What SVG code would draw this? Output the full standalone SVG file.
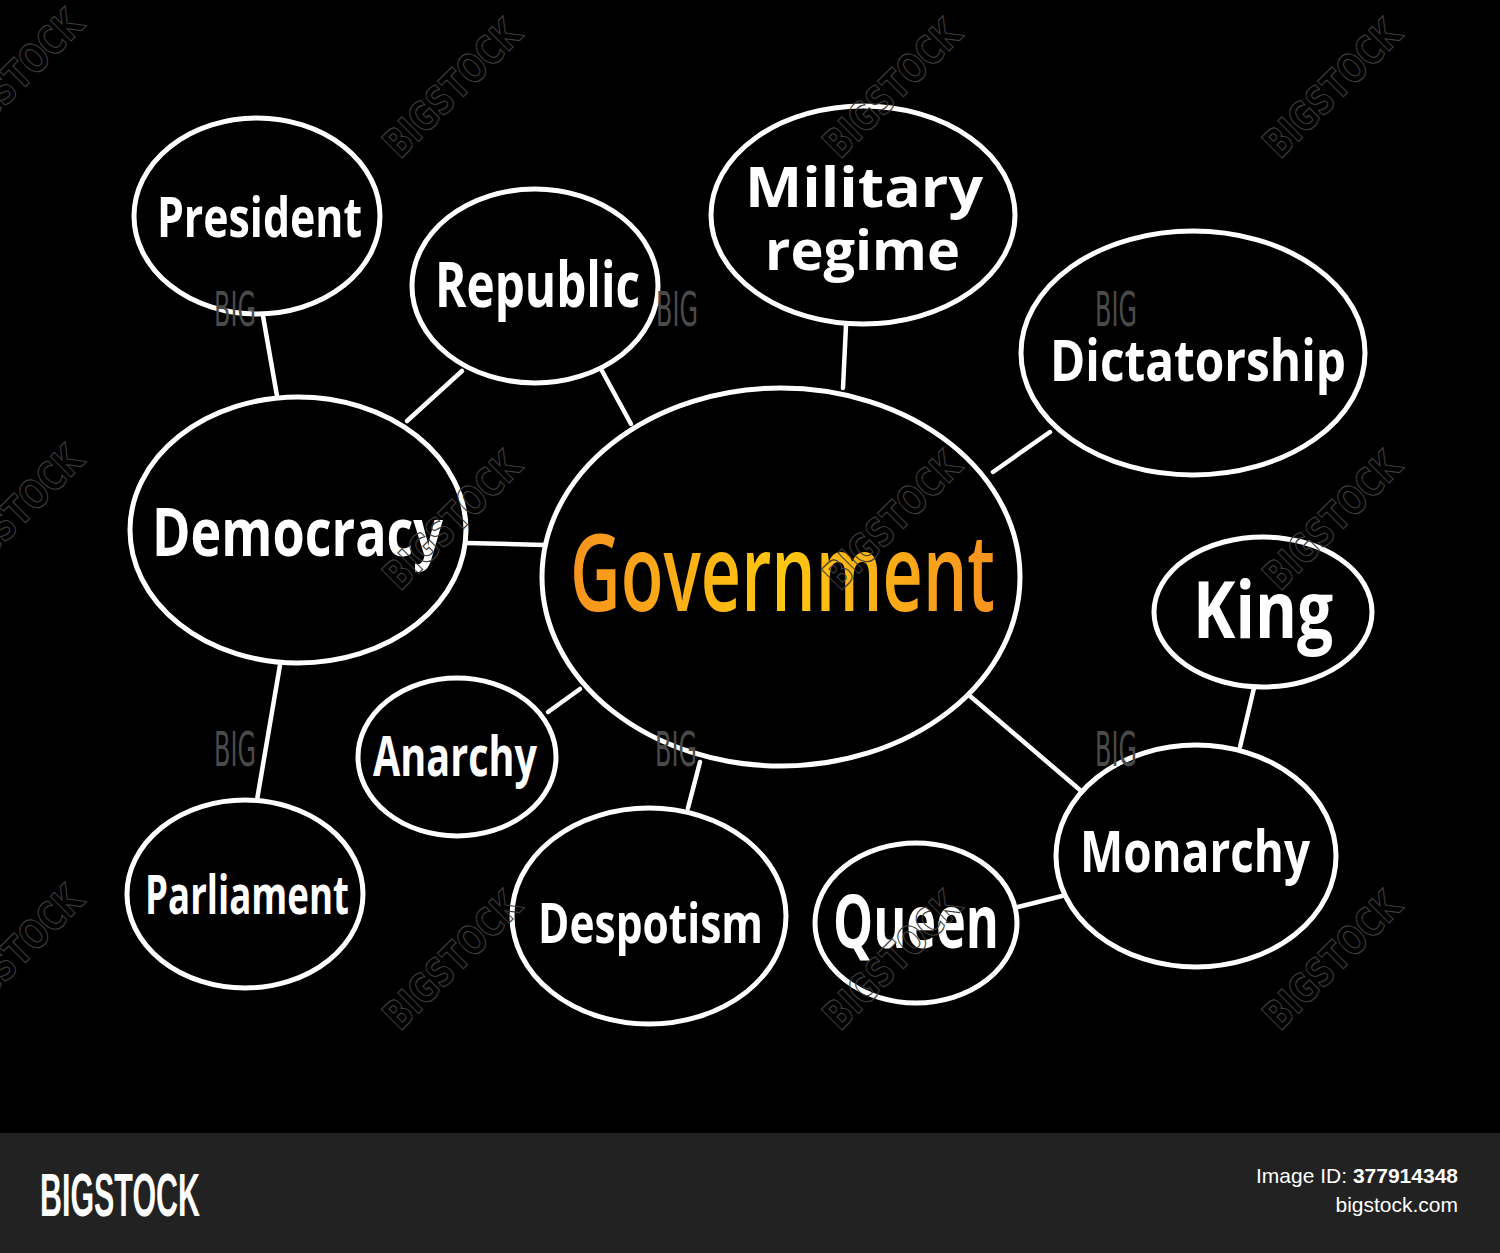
<svg xmlns="http://www.w3.org/2000/svg" width="1500" height="1253" viewBox="0 0 1500 1253">
  <defs>
    <linearGradient id="gov" x1="570" y1="0" x2="995" y2="0" gradientUnits="userSpaceOnUse">
      <stop offset="0" stop-color="#f7921e"/>
      <stop offset="0.5" stop-color="#ffc80f"/>
      <stop offset="1" stop-color="#f7921e"/>
    </linearGradient>
  </defs>
  <style>
    .bubble { fill: #000; stroke: #fff; stroke-width: 5; }
    .link { stroke: #fff; stroke-width: 4.5; stroke-linecap: round; fill: none; }
    .lbl { fill: #fff; font-family: "Open Sans", "Liberation Sans", sans-serif; font-weight: 700; }
    .wm { fill: none; stroke: #3c3c3c; stroke-width: 1.2; font-family: "DejaVu Sans Condensed", "Liberation Sans", sans-serif; font-weight: bold; font-size: 40px; }
    .big { fill: #4a4a4a; font-family: "DejaVu Sans Condensed", "Liberation Sans", sans-serif; font-size: 48px; }
    .foot { fill: #fff; font-family: "Liberation Sans", "DejaVu Sans Condensed", sans-serif; }
  </style>
  <rect x="0" y="0" width="1500" height="1253" fill="#000"/>

  <g id="connectors">
    <line class="link" x1="263" y1="316" x2="277" y2="396"/>
    <line class="link" x1="462" y1="371" x2="407" y2="421"/>
    <line class="link" x1="601" y1="369" x2="631" y2="424"/>
    <line class="link" x1="846" y1="325" x2="843" y2="388"/>
    <line class="link" x1="1050" y1="432" x2="993" y2="472"/>
    <line class="link" x1="467" y1="543" x2="544" y2="545"/>
    <line class="link" x1="280" y1="665" x2="257" y2="800"/>
    <line class="link" x1="548" y1="712" x2="580" y2="689"/>
    <line class="link" x1="700" y1="762" x2="688" y2="808"/>
    <line class="link" x1="970" y1="696" x2="1080" y2="790"/>
    <line class="link" x1="1254" y1="688" x2="1240" y2="747"/>
    <line class="link" x1="1018" y1="907" x2="1062" y2="896"/>
  </g>

  <g id="node-president">
    <ellipse class="bubble" cx="257" cy="216" rx="123" ry="98"/>
    <text class="lbl" x="157" y="237" font-size="56" textLength="205" lengthAdjust="spacingAndGlyphs">President</text>
  </g>
  <g id="node-republic">
    <ellipse class="bubble" cx="535" cy="286" rx="123" ry="97"/>
    <text class="lbl" x="435" y="307" font-size="62" textLength="205" lengthAdjust="spacingAndGlyphs">Republic</text>
  </g>
  <g id="node-military">
    <ellipse class="bubble" cx="863" cy="215" rx="152" ry="109"/>
    <text class="lbl" x="745" y="207" font-size="56" textLength="238" lengthAdjust="spacingAndGlyphs">Military</text>
    <text class="lbl" x="765" y="270" font-size="56" textLength="195" lengthAdjust="spacingAndGlyphs">regime</text>
  </g>
  <g id="node-dictatorship">
    <ellipse class="bubble" cx="1193" cy="353" rx="172" ry="122"/>
    <text class="lbl" x="1050" y="381" font-size="58" textLength="296" lengthAdjust="spacingAndGlyphs">Dictatorship</text>
  </g>
  <g id="node-democracy">
    <ellipse class="bubble" cx="298" cy="530" rx="168" ry="133"/>
    <text class="lbl" x="152" y="556" font-size="66" textLength="291" lengthAdjust="spacingAndGlyphs">Democracy</text>
  </g>
  <g id="node-government">
    <ellipse class="bubble" cx="781" cy="577" rx="239" ry="189"/>
    <text x="570" y="611" font-size="106" textLength="425" lengthAdjust="spacingAndGlyphs" fill="url(#gov)" font-family="Open Sans, Liberation Sans, sans-serif" font-weight="600">Government</text>
  </g>
  <g id="node-king">
    <ellipse class="bubble" cx="1263" cy="612" rx="109" ry="75"/>
    <text class="lbl" x="1193" y="638" font-size="78" textLength="140" lengthAdjust="spacingAndGlyphs">King</text>
  </g>
  <g id="node-anarchy">
    <ellipse class="bubble" cx="457" cy="757" rx="99" ry="79"/>
    <text class="lbl" x="373" y="776" font-size="56" textLength="164" lengthAdjust="spacingAndGlyphs">Anarchy</text>
  </g>
  <g id="node-parliament">
    <ellipse class="bubble" cx="245" cy="894" rx="118" ry="94"/>
    <text class="lbl" x="145" y="914" font-size="54" textLength="204" lengthAdjust="spacingAndGlyphs">Parliament</text>
  </g>
  <g id="node-despotism">
    <ellipse class="bubble" cx="649" cy="916" rx="137" ry="108"/>
    <text class="lbl" x="538" y="943" font-size="56" textLength="225" lengthAdjust="spacingAndGlyphs">Despotism</text>
  </g>
  <g id="node-queen">
    <ellipse class="bubble" cx="916" cy="923" rx="101" ry="80"/>
    <text class="lbl" x="833" y="948" font-size="74" textLength="166" lengthAdjust="spacingAndGlyphs">Queen</text>
  </g>
  <g id="node-monarchy">
    <ellipse class="bubble" cx="1196" cy="856" rx="140" ry="111"/>
    <text class="lbl" x="1080" y="872" font-size="58" textLength="230" lengthAdjust="spacingAndGlyphs">Monarchy</text>
  </g>

  <g id="watermarks">
    <text class="wm" transform="translate(-38,150) rotate(-45)" textLength="175" lengthAdjust="spacingAndGlyphs">BIGSTOCK</text>
    <text class="wm" transform="translate(400,160) rotate(-45)" textLength="175" lengthAdjust="spacingAndGlyphs">BIGSTOCK</text>
    <text class="wm" transform="translate(840,160) rotate(-45)" textLength="175" lengthAdjust="spacingAndGlyphs">BIGSTOCK</text>
    <text class="wm" transform="translate(1280,160) rotate(-45)" textLength="175" lengthAdjust="spacingAndGlyphs">BIGSTOCK</text>
    <text class="wm" transform="translate(-38,586) rotate(-45)" textLength="175" lengthAdjust="spacingAndGlyphs">BIGSTOCK</text>
    <text class="wm" transform="translate(400,592) rotate(-45)" textLength="175" lengthAdjust="spacingAndGlyphs">BIGSTOCK</text>
    <text class="wm" transform="translate(840,592) rotate(-45)" textLength="175" lengthAdjust="spacingAndGlyphs">BIGSTOCK</text>
    <text class="wm" transform="translate(1280,592) rotate(-45)" textLength="175" lengthAdjust="spacingAndGlyphs">BIGSTOCK</text>
    <text class="wm" transform="translate(-38,1026) rotate(-45)" textLength="175" lengthAdjust="spacingAndGlyphs">BIGSTOCK</text>
    <text class="wm" transform="translate(400,1032) rotate(-45)" textLength="175" lengthAdjust="spacingAndGlyphs">BIGSTOCK</text>
    <text class="wm" transform="translate(840,1032) rotate(-45)" textLength="175" lengthAdjust="spacingAndGlyphs">BIGSTOCK</text>
    <text class="wm" transform="translate(1280,1032) rotate(-45)" textLength="175" lengthAdjust="spacingAndGlyphs">BIGSTOCK</text>
  </g>

  <g id="big-marks">
    <text class="big" x="214" y="326" textLength="42" lengthAdjust="spacingAndGlyphs">BIG</text>
    <text class="big" x="656" y="326" textLength="42" lengthAdjust="spacingAndGlyphs">BIG</text>
    <text class="big" x="1095" y="326" textLength="42" lengthAdjust="spacingAndGlyphs">BIG</text>
    <text class="big" x="214" y="766" textLength="42" lengthAdjust="spacingAndGlyphs">BIG</text>
    <text class="big" x="655" y="766" textLength="42" lengthAdjust="spacingAndGlyphs">BIG</text>
    <text class="big" x="1095" y="766" textLength="42" lengthAdjust="spacingAndGlyphs">BIG</text>
  </g>

  <g id="footer">
    <rect x="0" y="1133" width="1500" height="120" fill="#222222"/>
    <text class="foot" x="40" y="1216" font-size="62" font-weight="bold" textLength="160" lengthAdjust="spacingAndGlyphs">BIGSTOCK</text>
    <text class="foot" x="1458" y="1183" font-size="21" text-anchor="end">Image ID: <tspan font-weight="bold">377914348</tspan></text>
    <text class="foot" x="1458" y="1212" font-size="21" text-anchor="end">bigstock.com</text>
  </g>
</svg>
